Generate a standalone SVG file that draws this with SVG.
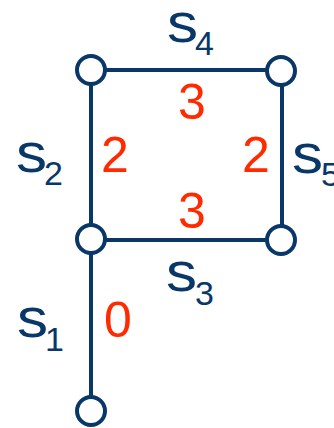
<svg xmlns="http://www.w3.org/2000/svg" width="334" height="428" viewBox="0 0 334 428">
<style>
.e{stroke:#083768;stroke-width:4;fill:none}
.n{stroke:#083768;stroke-width:4;fill:#fff}
.s{fill:#083768;font-family:"Liberation Sans",Arial,sans-serif;font-size:55px}
.b{fill:#083768;font-family:"Liberation Sans",Arial,sans-serif;font-size:34px}
.w{fill:#ff2a00;font-family:"Liberation Sans",Arial,sans-serif;font-size:50px}
</style>
<rect width="334" height="428" fill="#fff"/>
<g id="edges">
<line class="e" x1="91" y1="70" x2="281" y2="70"/>
<line class="e" x1="91" y1="70" x2="91" y2="411"/>
<line class="e" x1="282" y1="70" x2="282" y2="240"/>
<line class="e" x1="91" y1="240" x2="281" y2="240"/>
</g>
<g id="labels">
<g id="s4"><text class="s" transform="translate(167,42) scale(1.13,1)">s</text><text class="b" x="195" y="55">4</text></g>
<g id="s2"><text class="s" transform="translate(16,172) scale(1.13,1)">s</text><text class="b" x="44" y="185">2</text></g>
<g id="s5"><text class="s" transform="translate(292,173) scale(1.13,1)">s</text><text class="b" x="321" y="186">5</text></g>
<g id="s3"><text class="s" transform="translate(166,291) scale(1.13,1)">s</text><text class="b" x="195" y="305">3</text></g>
<g id="s1"><text class="s" transform="translate(17,337) scale(1.13,1)">s</text><text class="b" x="45" y="351">1</text></g>
<text class="w" x="178" y="119">3</text>
<text class="w" x="101" y="172">2</text>
<text class="w" x="242" y="172">2</text>
<text class="w" x="178" y="228">3</text>
<text class="w" x="104" y="337">0</text>
</g>
<g id="n1"><circle class="n" cx="91" cy="70" r="14"/></g>
<g id="n2"><circle class="n" cx="281" cy="71" r="14"/></g>
<g id="n3"><circle class="n" cx="91" cy="239" r="14"/></g>
<g id="n4"><circle class="n" cx="281" cy="240" r="14"/></g>
<g id="n5"><circle class="n" cx="91" cy="411" r="14"/></g>
</svg>
